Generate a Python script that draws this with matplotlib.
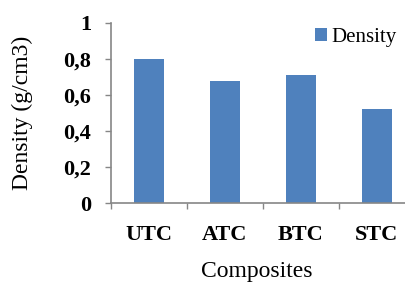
import numpy as np
import matplotlib
matplotlib.use("Agg")
from matplotlib import pyplot as plt

composites = ["UTC", "ATC", "BTC", "STC"]
density = [0.80, 0.68, 0.71, 0.52]
yticks = [0, 0.2, 0.4, 0.6, 0.8, 1]
ytick_labels = ["0", "0,2", "0,4", "0,6", "0,8", "1"]

plt.rcParams['font.family'] = ['Liberation Serif', 'DejaVu Serif']

fig = plt.figure(figsize=(4.06, 2.82), dpi=100)
ax = fig.add_axes([0.2727, 0.280, 0.7488, 0.639])

x = np.arange(len(composites))
ax.bar(x, density, width=0.4, color="#4F81BD", label="Density", zorder=2)

ax.set_xlim(-0.5, 3.5)
ax.set_ylim(0, 1)
ax.set_yticks(yticks)
ax.set_yticklabels(ytick_labels, fontsize=16, fontweight="bold")
ax.set_xticks(x)
ax.set_xticklabels(composites, fontsize=16, fontweight="bold")
ax.set_xticks(np.arange(-0.5, 3.6, 1), minor=True)

ax.tick_params(axis="x", which="major", length=0, pad=16)
ax.tick_params(axis="x", which="minor", length=4, width=1, color="#868686", direction="out")
ax.tick_params(axis="y", length=4, width=1, color="#868686", direction="out", pad=10)

for s in ["top", "right"]:
    ax.spines[s].set_visible(False)
for s in ["left", "bottom"]:
    ax.spines[s].set_color("#868686")
    ax.spines[s].set_linewidth(1.2)

ax.set_ylabel("Density (g/cm3)", fontsize=17, fontweight="normal")
ax.yaxis.set_label_coords(-0.256, 0.5)
ax.set_xlabel("Composites", fontsize=17, fontweight="normal")
ax.xaxis.set_label_coords(0.48, -0.32)

leg = ax.legend(loc="upper left", bbox_to_anchor=(0.63, 1.04), frameon=False,
                fontsize=15, handlelength=0.6, handleheight=0.6, handletextpad=0.2,
                borderpad=0.1)

fig.savefig("out.png", dpi=100)
